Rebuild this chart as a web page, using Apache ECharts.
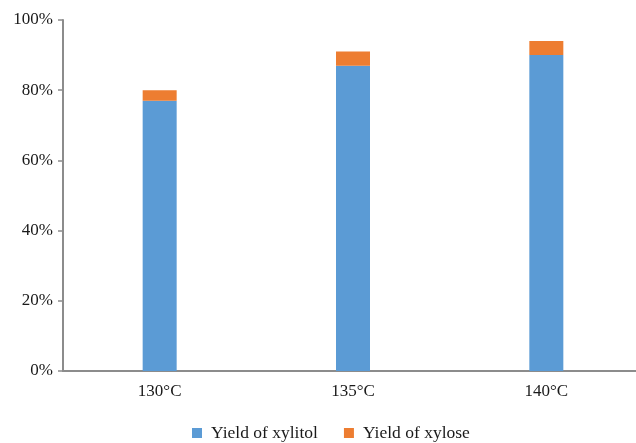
<!DOCTYPE html>
<html>
<head>
<meta charset="utf-8">
<script src="https://cdn.jsdelivr.net/npm/echarts@6/dist/echarts.min.js"></script>
<style>
  html, body { margin: 0; padding: 0; background: #fff; overflow: hidden; }
  /* canvas runs a little past the right edge so the last category keeps its full width */
  #chart { width: 650px; height: 443px; }
</style>
</head>
<body>
<div id="chart"></div>
<script>
// Reaction temperatures and stacked yields (%)
const temperatures = ['130°C', '135°C', '140°C'];
const xylitolYield = [77, 87, 90];
const xyloseYield = [3, 4, 4];
const yTicks = [0, 20, 40, 60, 80, 100];

const serif = '"Liberation Serif", "DejaVu Serif", serif';
const axisGray = '#8c8c8c';
const textColor = '#1a1a1a';

const chart = echarts.init(document.getElementById('chart'), null, { renderer: 'canvas' });
chart.setOption({
  animation: false,
  backgroundColor: '#ffffff',
  grid: { left: 63, right: 7, top: 20, height: 351 },
  legend: {
    top: 419,
    left: 187,
    itemWidth: 10,
    itemHeight: 10,
    itemGap: 26,
    icon: 'rect',
    textStyle: { fontFamily: serif, fontSize: 17.5, color: textColor, padding: [0, 0, 0, 4] },
    data: ['Yield of xylitol', 'Yield of xylose']
  },
  xAxis: {
    type: 'category',
    data: temperatures,
    axisLine: { lineStyle: { color: axisGray, width: 2 } },
    axisTick: { show: false },
    axisLabel: { fontFamily: serif, fontSize: 17, color: textColor, margin: 12 }
  },
  yAxis: {
    type: 'value',
    min: yTicks[0],
    max: yTicks[yTicks.length - 1],
    interval: yTicks[1] - yTicks[0],
    axisLine: { show: true, lineStyle: { color: axisGray, width: 2 } },
    axisTick: { show: true, length: 5, lineStyle: { color: axisGray, width: 1.5 } },
    splitLine: { show: false },
    axisLabel: {
      fontFamily: serif, fontSize: 17, color: textColor, margin: 10,
      formatter: v => v + '%'
    }
  },
  series: [
    {
      name: 'Yield of xylitol',
      type: 'bar',
      stack: 'yield',
      barWidth: 34,
      itemStyle: { color: '#5b9bd5' },
      data: xylitolYield
    },
    {
      name: 'Yield of xylose',
      type: 'bar',
      stack: 'yield',
      barWidth: 34,
      itemStyle: { color: '#ed7d31' },
      data: xyloseYield
    }
  ]
});
</script>
</body>
</html>
